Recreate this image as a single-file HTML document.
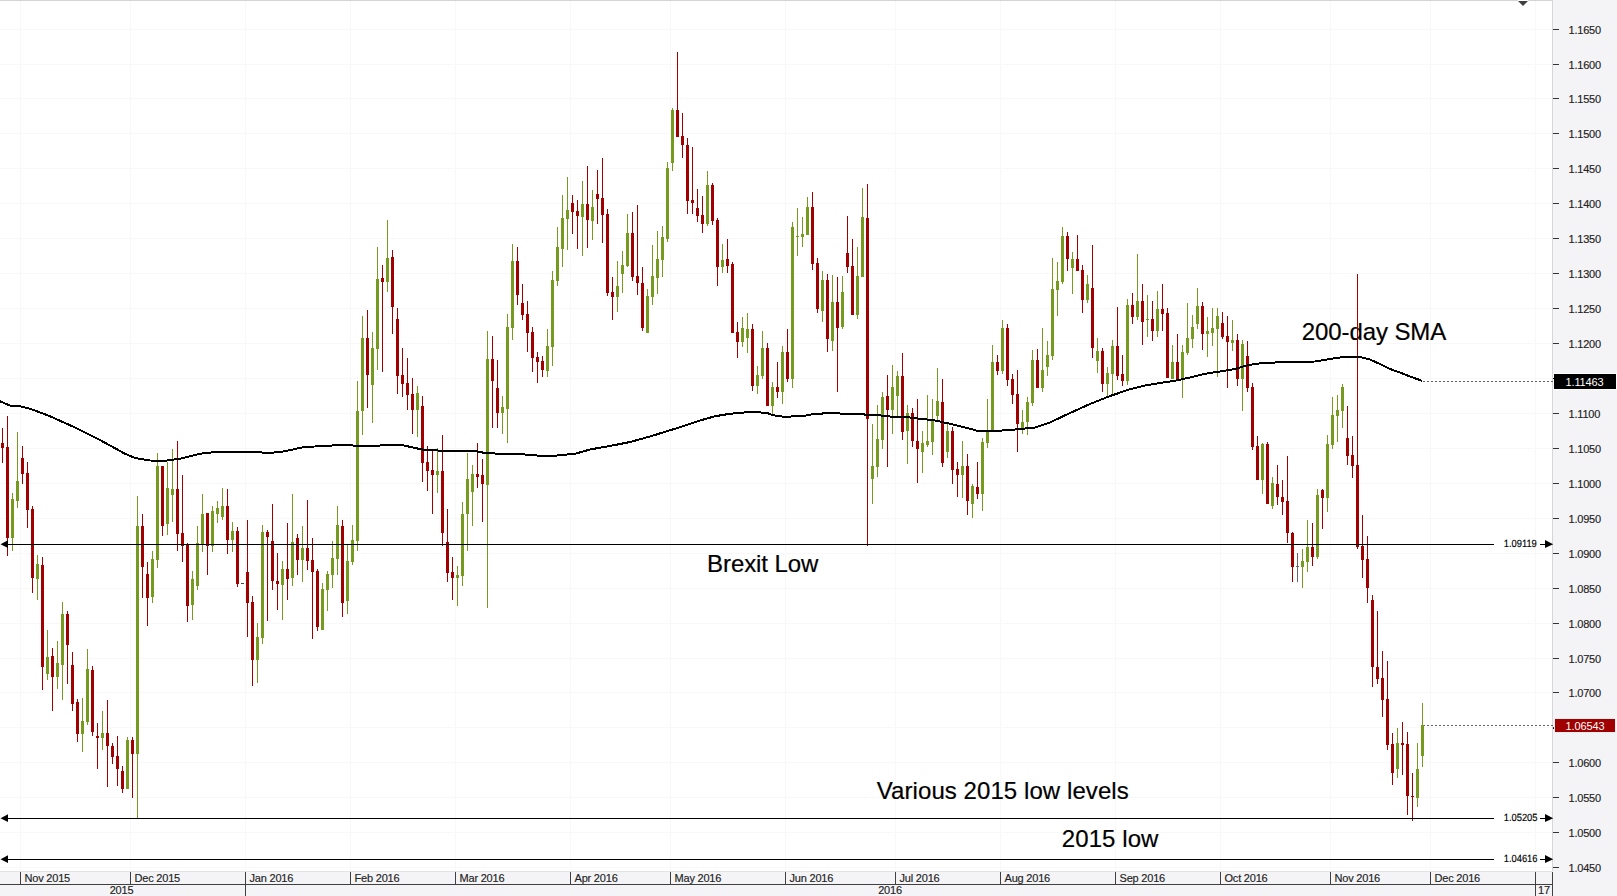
<!DOCTYPE html>
<html lang="en"><head><meta charset="utf-8"><title>EUR/USD daily chart</title>
<style>html,body{margin:0;padding:0;background:#fff}body{width:1617px;height:896px;overflow:hidden;position:relative}svg{display:block;position:absolute;left:0;top:0}text{font-family:"Liberation Sans",Arial,sans-serif}.ax{font-size:11px;fill:#222;letter-spacing:-0.2px;stroke:#222;stroke-width:0.15px}.lv{font-size:10.4px;fill:#000;stroke:#000;stroke-width:0.15px}.an{fill:#000;stroke:#000;stroke-width:0.2px}</style></head><body>
<svg width="1617" height="896" viewBox="0 0 1617 896">
<rect x="0" y="0" width="1617" height="896" fill="#fff"/>
<g shape-rendering="crispEdges" fill="#f8f8f8">
<rect x="0" y="29" width="1552" height="1"/>
<rect x="0" y="64" width="1552" height="1"/>
<rect x="0" y="98" width="1552" height="1"/>
<rect x="0" y="133" width="1552" height="1"/>
<rect x="0" y="168" width="1552" height="1"/>
<rect x="0" y="203" width="1552" height="1"/>
<rect x="0" y="238" width="1552" height="1"/>
<rect x="0" y="273" width="1552" height="1"/>
<rect x="0" y="308" width="1552" height="1"/>
<rect x="0" y="343" width="1552" height="1"/>
<rect x="0" y="378" width="1552" height="1"/>
<rect x="0" y="413" width="1552" height="1"/>
<rect x="0" y="448" width="1552" height="1"/>
<rect x="0" y="483" width="1552" height="1"/>
<rect x="0" y="518" width="1552" height="1"/>
<rect x="0" y="553" width="1552" height="1"/>
<rect x="0" y="588" width="1552" height="1"/>
<rect x="0" y="623" width="1552" height="1"/>
<rect x="0" y="658" width="1552" height="1"/>
<rect x="0" y="692" width="1552" height="1"/>
<rect x="0" y="727" width="1552" height="1"/>
<rect x="0" y="762" width="1552" height="1"/>
<rect x="0" y="797" width="1552" height="1"/>
<rect x="0" y="832" width="1552" height="1"/>
<rect x="0" y="867" width="1552" height="1"/>
<rect x="20" y="1" width="1" height="870"/>
<rect x="130" y="1" width="1" height="870"/>
<rect x="245" y="1" width="1" height="870"/>
<rect x="350" y="1" width="1" height="870"/>
<rect x="455" y="1" width="1" height="870"/>
<rect x="570" y="1" width="1" height="870"/>
<rect x="670" y="1" width="1" height="870"/>
<rect x="785" y="1" width="1" height="870"/>
<rect x="895" y="1" width="1" height="870"/>
<rect x="1000" y="1" width="1" height="870"/>
<rect x="1115" y="1" width="1" height="870"/>
<rect x="1220" y="1" width="1" height="870"/>
<rect x="1330" y="1" width="1" height="870"/>
<rect x="1430" y="1" width="1" height="870"/>
<rect x="1535" y="1" width="1" height="870"/>
</g>
<g shape-rendering="crispEdges">
<rect x="0" y="0" width="1553" height="1" fill="#d4d4d6"/>
<rect x="1553" y="0" width="64" height="896" fill="#f4f4f7"/>
<rect x="1552" y="0" width="1" height="871" fill="#d6d6d8"/>
<rect x="0" y="871" width="1553" height="25" fill="#f4f4f7"/>
<rect x="0" y="871" width="1552" height="1" fill="#e2e2e4"/>
<rect x="0" y="884" width="1553" height="1" fill="#404040"/>
<rect x="1552" y="872" width="1" height="24" fill="#404040"/>
<rect x="20" y="872" width="1" height="12" fill="#404040"/>
<rect x="130" y="872" width="1" height="12" fill="#404040"/>
<rect x="245" y="872" width="1" height="12" fill="#404040"/>
<rect x="350" y="872" width="1" height="12" fill="#404040"/>
<rect x="455" y="872" width="1" height="12" fill="#404040"/>
<rect x="570" y="872" width="1" height="12" fill="#404040"/>
<rect x="670" y="872" width="1" height="12" fill="#404040"/>
<rect x="785" y="872" width="1" height="12" fill="#404040"/>
<rect x="895" y="872" width="1" height="12" fill="#404040"/>
<rect x="1000" y="872" width="1" height="12" fill="#404040"/>
<rect x="1115" y="872" width="1" height="12" fill="#404040"/>
<rect x="1220" y="872" width="1" height="12" fill="#404040"/>
<rect x="1330" y="872" width="1" height="12" fill="#404040"/>
<rect x="1430" y="872" width="1" height="12" fill="#404040"/>
<rect x="245" y="872" width="1" height="24" fill="#404040"/>
<rect x="1535" y="872" width="1" height="24" fill="#404040"/>
<rect x="1553" y="29" width="6" height="1" fill="#333"/>
<rect x="1553" y="64" width="6" height="1" fill="#333"/>
<rect x="1553" y="98" width="6" height="1" fill="#333"/>
<rect x="1553" y="133" width="6" height="1" fill="#333"/>
<rect x="1553" y="168" width="6" height="1" fill="#333"/>
<rect x="1553" y="203" width="6" height="1" fill="#333"/>
<rect x="1553" y="238" width="6" height="1" fill="#333"/>
<rect x="1553" y="273" width="6" height="1" fill="#333"/>
<rect x="1553" y="308" width="6" height="1" fill="#333"/>
<rect x="1553" y="343" width="6" height="1" fill="#333"/>
<rect x="1553" y="378" width="6" height="1" fill="#333"/>
<rect x="1553" y="413" width="6" height="1" fill="#333"/>
<rect x="1553" y="448" width="6" height="1" fill="#333"/>
<rect x="1553" y="483" width="6" height="1" fill="#333"/>
<rect x="1553" y="518" width="6" height="1" fill="#333"/>
<rect x="1553" y="553" width="6" height="1" fill="#333"/>
<rect x="1553" y="588" width="6" height="1" fill="#333"/>
<rect x="1553" y="623" width="6" height="1" fill="#333"/>
<rect x="1553" y="658" width="6" height="1" fill="#333"/>
<rect x="1553" y="692" width="6" height="1" fill="#333"/>
<rect x="1553" y="727" width="6" height="1" fill="#333"/>
<rect x="1553" y="762" width="6" height="1" fill="#333"/>
<rect x="1553" y="797" width="6" height="1" fill="#333"/>
<rect x="1553" y="832" width="6" height="1" fill="#333"/>
<rect x="1553" y="867" width="6" height="1" fill="#333"/>
</g>
<text class="ax" x="1568.5" y="34">1.1650</text>
<text class="ax" x="1568.5" y="69">1.1600</text>
<text class="ax" x="1568.5" y="103">1.1550</text>
<text class="ax" x="1568.5" y="138">1.1500</text>
<text class="ax" x="1568.5" y="173">1.1450</text>
<text class="ax" x="1568.5" y="208">1.1400</text>
<text class="ax" x="1568.5" y="243">1.1350</text>
<text class="ax" x="1568.5" y="278">1.1300</text>
<text class="ax" x="1568.5" y="313">1.1250</text>
<text class="ax" x="1568.5" y="348">1.1200</text>
<text class="ax" x="1568.5" y="418">1.1100</text>
<text class="ax" x="1568.5" y="453">1.1050</text>
<text class="ax" x="1568.5" y="488">1.1000</text>
<text class="ax" x="1568.5" y="523">1.0950</text>
<text class="ax" x="1568.5" y="558">1.0900</text>
<text class="ax" x="1568.5" y="593">1.0850</text>
<text class="ax" x="1568.5" y="628">1.0800</text>
<text class="ax" x="1568.5" y="663">1.0750</text>
<text class="ax" x="1568.5" y="697">1.0700</text>
<text class="ax" x="1568.5" y="767">1.0600</text>
<text class="ax" x="1568.5" y="802">1.0550</text>
<text class="ax" x="1568.5" y="837">1.0500</text>
<text class="ax" x="1568.5" y="872">1.0450</text>
<text class="ax" x="24.5" y="882">Nov 2015</text>
<text class="ax" x="134.5" y="882">Dec 2015</text>
<text class="ax" x="249.5" y="882">Jan 2016</text>
<text class="ax" x="354.5" y="882">Feb 2016</text>
<text class="ax" x="459.5" y="882">Mar 2016</text>
<text class="ax" x="574.5" y="882">Apr 2016</text>
<text class="ax" x="674.5" y="882">May 2016</text>
<text class="ax" x="789.5" y="882">Jun 2016</text>
<text class="ax" x="899.5" y="882">Jul 2016</text>
<text class="ax" x="1004.5" y="882">Aug 2016</text>
<text class="ax" x="1119.5" y="882">Sep 2016</text>
<text class="ax" x="1224.5" y="882">Oct 2016</text>
<text class="ax" x="1334.5" y="882">Nov 2016</text>
<text class="ax" x="1434.5" y="882">Dec 2016</text>
<text class="ax" x="121.5" y="894" text-anchor="middle">2015</text>
<text class="ax" x="890" y="894" text-anchor="middle">2016</text>
<text class="ax" x="1538" y="894">17</text>
<rect x="1518" y="0" width="10" height="1" fill="#fff"/>
<path d="M1518 1 L1528 1 L1523 6 Z" fill="#404040"/>
<text class="an" x="707.1" y="572.2" font-size="24" letter-spacing="-0.1">Brexit Low</text>
<text class="an" x="1301.8" y="340.2" font-size="24" letter-spacing="-0.1">200-day SMA</text>
<text class="an" x="876.8" y="799.2" font-size="24" letter-spacing="0.07">Various 2015 low levels</text>
<text class="an" x="1061.8" y="847.2" font-size="24" letter-spacing="0.08">2015 low</text>
<g shape-rendering="crispEdges">
<line x1="1423" y1="381.5" x2="1553" y2="381.5" stroke="#606060" stroke-width="1" stroke-dasharray="2 2"/>
<line x1="1423" y1="725.5" x2="1553" y2="725.5" stroke="#606060" stroke-width="1" stroke-dasharray="2 2"/>
</g>
<g shape-rendering="crispEdges">
<rect x="2" y="428" width="1" height="35" fill="#a00000"/>
<rect x="1" y="443" width="3" height="5" fill="#a00000"/>
<rect x="7" y="416" width="1" height="140" fill="#a00000"/>
<rect x="6" y="447" width="3" height="91" fill="#a00000"/>
<rect x="12" y="493" width="1" height="58" fill="#76991f"/>
<rect x="11" y="499" width="3" height="39" fill="#76991f"/>
<rect x="17" y="432" width="1" height="76" fill="#76991f"/>
<rect x="16" y="481" width="3" height="20" fill="#76991f"/>
<rect x="22" y="446" width="1" height="38" fill="#a00000"/>
<rect x="21" y="458" width="3" height="16" fill="#a00000"/>
<rect x="27" y="462" width="1" height="66" fill="#a00000"/>
<rect x="26" y="473" width="3" height="37" fill="#a00000"/>
<rect x="32" y="506" width="1" height="87" fill="#a00000"/>
<rect x="31" y="509" width="3" height="69" fill="#a00000"/>
<rect x="37" y="555" width="1" height="45" fill="#76991f"/>
<rect x="36" y="564" width="3" height="15" fill="#76991f"/>
<rect x="42" y="557" width="1" height="133" fill="#a00000"/>
<rect x="41" y="565" width="3" height="102" fill="#a00000"/>
<rect x="47" y="630" width="1" height="50" fill="#76991f"/>
<rect x="46" y="657" width="3" height="17" fill="#76991f"/>
<rect x="52" y="648" width="1" height="63" fill="#a00000"/>
<rect x="51" y="656" width="3" height="21" fill="#a00000"/>
<rect x="57" y="641" width="1" height="48" fill="#76991f"/>
<rect x="56" y="663" width="3" height="14" fill="#76991f"/>
<rect x="62" y="602" width="1" height="98" fill="#76991f"/>
<rect x="61" y="614" width="3" height="51" fill="#76991f"/>
<rect x="67" y="611" width="1" height="73" fill="#a00000"/>
<rect x="66" y="614" width="3" height="31" fill="#a00000"/>
<rect x="72" y="652" width="1" height="59" fill="#a00000"/>
<rect x="71" y="665" width="3" height="39" fill="#a00000"/>
<rect x="77" y="699" width="1" height="43" fill="#a00000"/>
<rect x="76" y="702" width="3" height="32" fill="#a00000"/>
<rect x="82" y="698" width="1" height="54" fill="#76991f"/>
<rect x="81" y="721" width="3" height="13" fill="#76991f"/>
<rect x="87" y="649" width="1" height="76" fill="#76991f"/>
<rect x="86" y="669" width="3" height="53" fill="#76991f"/>
<rect x="92" y="666" width="1" height="70" fill="#a00000"/>
<rect x="91" y="670" width="3" height="62" fill="#a00000"/>
<rect x="97" y="723" width="1" height="46" fill="#a00000"/>
<rect x="96" y="736" width="3" height="2" fill="#a00000"/>
<rect x="102" y="711" width="1" height="39" fill="#76991f"/>
<rect x="101" y="733" width="3" height="5" fill="#76991f"/>
<rect x="107" y="700" width="1" height="87" fill="#a00000"/>
<rect x="106" y="733" width="3" height="13" fill="#a00000"/>
<rect x="112" y="743" width="1" height="21" fill="#a00000"/>
<rect x="111" y="746" width="3" height="11" fill="#a00000"/>
<rect x="117" y="736" width="1" height="50" fill="#a00000"/>
<rect x="116" y="756" width="3" height="13" fill="#a00000"/>
<rect x="122" y="766" width="1" height="27" fill="#a00000"/>
<rect x="121" y="771" width="3" height="18" fill="#a00000"/>
<rect x="127" y="737" width="1" height="52" fill="#76991f"/>
<rect x="126" y="740" width="3" height="49" fill="#76991f"/>
<rect x="132" y="737" width="1" height="61" fill="#a00000"/>
<rect x="131" y="740" width="3" height="14" fill="#a00000"/>
<rect x="137" y="496" width="1" height="322" fill="#76991f"/>
<rect x="136" y="526" width="3" height="228" fill="#76991f"/>
<rect x="142" y="514" width="1" height="84" fill="#a00000"/>
<rect x="141" y="526" width="3" height="41" fill="#a00000"/>
<rect x="147" y="562" width="1" height="64" fill="#a00000"/>
<rect x="146" y="574" width="3" height="24" fill="#a00000"/>
<rect x="152" y="551" width="1" height="52" fill="#76991f"/>
<rect x="151" y="559" width="3" height="38" fill="#76991f"/>
<rect x="157" y="453" width="1" height="115" fill="#76991f"/>
<rect x="156" y="466" width="3" height="94" fill="#76991f"/>
<rect x="162" y="466" width="1" height="70" fill="#a00000"/>
<rect x="161" y="466" width="3" height="60" fill="#a00000"/>
<rect x="167" y="462" width="1" height="73" fill="#76991f"/>
<rect x="166" y="488" width="3" height="36" fill="#76991f"/>
<rect x="172" y="449" width="1" height="73" fill="#76991f"/>
<rect x="171" y="489" width="3" height="6" fill="#76991f"/>
<rect x="177" y="441" width="1" height="110" fill="#a00000"/>
<rect x="176" y="489" width="3" height="45" fill="#a00000"/>
<rect x="182" y="475" width="1" height="87" fill="#a00000"/>
<rect x="181" y="533" width="3" height="13" fill="#a00000"/>
<rect x="187" y="543" width="1" height="79" fill="#a00000"/>
<rect x="186" y="545" width="3" height="61" fill="#a00000"/>
<rect x="192" y="571" width="1" height="49" fill="#76991f"/>
<rect x="191" y="579" width="3" height="26" fill="#76991f"/>
<rect x="197" y="526" width="1" height="64" fill="#76991f"/>
<rect x="196" y="543" width="3" height="43" fill="#76991f"/>
<rect x="202" y="494" width="1" height="58" fill="#76991f"/>
<rect x="201" y="514" width="3" height="31" fill="#76991f"/>
<rect x="207" y="513" width="1" height="62" fill="#a00000"/>
<rect x="206" y="513" width="3" height="33" fill="#a00000"/>
<rect x="212" y="506" width="1" height="46" fill="#76991f"/>
<rect x="211" y="511" width="3" height="35" fill="#76991f"/>
<rect x="217" y="501" width="1" height="22" fill="#76991f"/>
<rect x="216" y="508" width="3" height="6" fill="#76991f"/>
<rect x="222" y="488" width="1" height="32" fill="#76991f"/>
<rect x="221" y="506" width="3" height="11" fill="#76991f"/>
<rect x="227" y="489" width="1" height="65" fill="#a00000"/>
<rect x="226" y="506" width="3" height="34" fill="#a00000"/>
<rect x="232" y="522" width="1" height="30" fill="#76991f"/>
<rect x="231" y="531" width="3" height="9" fill="#76991f"/>
<rect x="237" y="527" width="1" height="60" fill="#a00000"/>
<rect x="236" y="531" width="3" height="53" fill="#a00000"/>
<rect x="241" y="583" width="3" height="1" fill="#444"/>
<rect x="247" y="520" width="1" height="117" fill="#a00000"/>
<rect x="246" y="572" width="3" height="31" fill="#a00000"/>
<rect x="252" y="596" width="1" height="90" fill="#a00000"/>
<rect x="251" y="602" width="3" height="58" fill="#a00000"/>
<rect x="257" y="623" width="1" height="60" fill="#76991f"/>
<rect x="256" y="637" width="3" height="23" fill="#76991f"/>
<rect x="262" y="525" width="1" height="119" fill="#76991f"/>
<rect x="261" y="532" width="3" height="106" fill="#76991f"/>
<rect x="267" y="530" width="1" height="91" fill="#a00000"/>
<rect x="266" y="532" width="3" height="5" fill="#a00000"/>
<rect x="272" y="504" width="1" height="86" fill="#a00000"/>
<rect x="271" y="541" width="3" height="40" fill="#a00000"/>
<rect x="277" y="553" width="1" height="57" fill="#a00000"/>
<rect x="276" y="581" width="3" height="3" fill="#a00000"/>
<rect x="282" y="561" width="1" height="59" fill="#76991f"/>
<rect x="281" y="569" width="3" height="16" fill="#76991f"/>
<rect x="287" y="523" width="1" height="77" fill="#a00000"/>
<rect x="286" y="569" width="3" height="10" fill="#a00000"/>
<rect x="292" y="494" width="1" height="92" fill="#76991f"/>
<rect x="291" y="542" width="3" height="36" fill="#76991f"/>
<rect x="297" y="534" width="1" height="41" fill="#a00000"/>
<rect x="296" y="538" width="3" height="22" fill="#a00000"/>
<rect x="302" y="526" width="1" height="56" fill="#76991f"/>
<rect x="301" y="548" width="3" height="12" fill="#76991f"/>
<rect x="307" y="500" width="1" height="70" fill="#a00000"/>
<rect x="306" y="548" width="3" height="13" fill="#a00000"/>
<rect x="312" y="538" width="1" height="101" fill="#a00000"/>
<rect x="311" y="560" width="3" height="12" fill="#a00000"/>
<rect x="317" y="569" width="1" height="62" fill="#a00000"/>
<rect x="316" y="571" width="3" height="56" fill="#a00000"/>
<rect x="322" y="583" width="1" height="47" fill="#76991f"/>
<rect x="321" y="589" width="3" height="41" fill="#76991f"/>
<rect x="327" y="571" width="1" height="40" fill="#76991f"/>
<rect x="326" y="574" width="3" height="16" fill="#76991f"/>
<rect x="332" y="541" width="1" height="47" fill="#76991f"/>
<rect x="331" y="558" width="3" height="17" fill="#76991f"/>
<rect x="337" y="506" width="1" height="69" fill="#76991f"/>
<rect x="336" y="525" width="3" height="34" fill="#76991f"/>
<rect x="342" y="520" width="1" height="97" fill="#a00000"/>
<rect x="341" y="526" width="3" height="77" fill="#a00000"/>
<rect x="347" y="544" width="1" height="70" fill="#76991f"/>
<rect x="346" y="561" width="3" height="40" fill="#76991f"/>
<rect x="352" y="525" width="1" height="40" fill="#76991f"/>
<rect x="351" y="540" width="3" height="22" fill="#76991f"/>
<rect x="357" y="381" width="1" height="170" fill="#76991f"/>
<rect x="356" y="411" width="3" height="130" fill="#76991f"/>
<rect x="362" y="316" width="1" height="119" fill="#76991f"/>
<rect x="361" y="338" width="3" height="73" fill="#76991f"/>
<rect x="367" y="310" width="1" height="98" fill="#a00000"/>
<rect x="366" y="338" width="3" height="37" fill="#a00000"/>
<rect x="372" y="332" width="1" height="91" fill="#76991f"/>
<rect x="371" y="348" width="3" height="37" fill="#76991f"/>
<rect x="377" y="247" width="1" height="123" fill="#76991f"/>
<rect x="376" y="279" width="3" height="70" fill="#76991f"/>
<rect x="382" y="265" width="1" height="107" fill="#a00000"/>
<rect x="381" y="278" width="3" height="4" fill="#a00000"/>
<rect x="387" y="220" width="1" height="72" fill="#76991f"/>
<rect x="386" y="258" width="3" height="24" fill="#76991f"/>
<rect x="392" y="250" width="1" height="84" fill="#a00000"/>
<rect x="391" y="257" width="3" height="50" fill="#a00000"/>
<rect x="397" y="308" width="1" height="86" fill="#a00000"/>
<rect x="396" y="319" width="3" height="57" fill="#a00000"/>
<rect x="402" y="348" width="1" height="49" fill="#a00000"/>
<rect x="401" y="375" width="3" height="9" fill="#a00000"/>
<rect x="407" y="358" width="1" height="52" fill="#a00000"/>
<rect x="406" y="383" width="3" height="12" fill="#a00000"/>
<rect x="412" y="378" width="1" height="56" fill="#a00000"/>
<rect x="411" y="394" width="3" height="16" fill="#a00000"/>
<rect x="417" y="386" width="1" height="51" fill="#76991f"/>
<rect x="416" y="393" width="3" height="17" fill="#76991f"/>
<rect x="422" y="396" width="1" height="86" fill="#a00000"/>
<rect x="421" y="406" width="3" height="57" fill="#a00000"/>
<rect x="427" y="446" width="1" height="45" fill="#a00000"/>
<rect x="426" y="462" width="3" height="9" fill="#a00000"/>
<rect x="432" y="450" width="1" height="64" fill="#a00000"/>
<rect x="431" y="470" width="3" height="5" fill="#a00000"/>
<rect x="437" y="448" width="1" height="45" fill="#76991f"/>
<rect x="436" y="471" width="3" height="4" fill="#76991f"/>
<rect x="442" y="435" width="1" height="111" fill="#a00000"/>
<rect x="441" y="471" width="3" height="62" fill="#a00000"/>
<rect x="447" y="509" width="1" height="73" fill="#a00000"/>
<rect x="446" y="542" width="3" height="31" fill="#a00000"/>
<rect x="452" y="557" width="1" height="43" fill="#a00000"/>
<rect x="451" y="572" width="3" height="6" fill="#a00000"/>
<rect x="457" y="566" width="1" height="40" fill="#76991f"/>
<rect x="456" y="575" width="3" height="3" fill="#76991f"/>
<rect x="462" y="502" width="1" height="84" fill="#76991f"/>
<rect x="461" y="514" width="3" height="62" fill="#76991f"/>
<rect x="467" y="453" width="1" height="98" fill="#76991f"/>
<rect x="466" y="479" width="3" height="35" fill="#76991f"/>
<rect x="472" y="465" width="1" height="61" fill="#76991f"/>
<rect x="471" y="474" width="3" height="18" fill="#76991f"/>
<rect x="477" y="443" width="1" height="45" fill="#a00000"/>
<rect x="476" y="474" width="3" height="3" fill="#a00000"/>
<rect x="482" y="459" width="1" height="63" fill="#a00000"/>
<rect x="481" y="475" width="3" height="9" fill="#a00000"/>
<rect x="487" y="331" width="1" height="277" fill="#76991f"/>
<rect x="486" y="359" width="3" height="126" fill="#76991f"/>
<rect x="492" y="336" width="1" height="92" fill="#a00000"/>
<rect x="491" y="359" width="3" height="22" fill="#a00000"/>
<rect x="497" y="360" width="1" height="68" fill="#a00000"/>
<rect x="496" y="388" width="3" height="25" fill="#a00000"/>
<rect x="502" y="396" width="1" height="38" fill="#76991f"/>
<rect x="501" y="407" width="3" height="6" fill="#76991f"/>
<rect x="507" y="314" width="1" height="129" fill="#76991f"/>
<rect x="506" y="327" width="3" height="82" fill="#76991f"/>
<rect x="512" y="244" width="1" height="96" fill="#76991f"/>
<rect x="511" y="261" width="3" height="67" fill="#76991f"/>
<rect x="517" y="247" width="1" height="58" fill="#a00000"/>
<rect x="516" y="261" width="3" height="34" fill="#a00000"/>
<rect x="522" y="284" width="1" height="36" fill="#a00000"/>
<rect x="521" y="303" width="3" height="12" fill="#a00000"/>
<rect x="527" y="301" width="1" height="51" fill="#a00000"/>
<rect x="526" y="314" width="3" height="19" fill="#a00000"/>
<rect x="532" y="327" width="1" height="45" fill="#a00000"/>
<rect x="531" y="332" width="3" height="26" fill="#a00000"/>
<rect x="537" y="352" width="1" height="31" fill="#a00000"/>
<rect x="536" y="357" width="3" height="5" fill="#a00000"/>
<rect x="542" y="356" width="1" height="21" fill="#a00000"/>
<rect x="541" y="361" width="3" height="9" fill="#a00000"/>
<rect x="547" y="329" width="1" height="48" fill="#76991f"/>
<rect x="546" y="346" width="3" height="25" fill="#76991f"/>
<rect x="552" y="271" width="1" height="95" fill="#76991f"/>
<rect x="551" y="280" width="3" height="67" fill="#76991f"/>
<rect x="557" y="227" width="1" height="59" fill="#76991f"/>
<rect x="556" y="247" width="3" height="34" fill="#76991f"/>
<rect x="562" y="195" width="1" height="72" fill="#76991f"/>
<rect x="561" y="218" width="3" height="31" fill="#76991f"/>
<rect x="567" y="177" width="1" height="73" fill="#76991f"/>
<rect x="566" y="210" width="3" height="9" fill="#76991f"/>
<rect x="572" y="195" width="1" height="39" fill="#a00000"/>
<rect x="571" y="203" width="3" height="9" fill="#a00000"/>
<rect x="577" y="200" width="1" height="49" fill="#a00000"/>
<rect x="576" y="211" width="3" height="5" fill="#a00000"/>
<rect x="582" y="181" width="1" height="75" fill="#76991f"/>
<rect x="581" y="204" width="3" height="13" fill="#76991f"/>
<rect x="587" y="166" width="1" height="82" fill="#a00000"/>
<rect x="586" y="204" width="3" height="16" fill="#a00000"/>
<rect x="592" y="190" width="1" height="50" fill="#76991f"/>
<rect x="591" y="207" width="3" height="14" fill="#76991f"/>
<rect x="597" y="170" width="1" height="54" fill="#a00000"/>
<rect x="596" y="194" width="3" height="5" fill="#a00000"/>
<rect x="602" y="158" width="1" height="85" fill="#a00000"/>
<rect x="601" y="198" width="3" height="17" fill="#a00000"/>
<rect x="607" y="209" width="1" height="87" fill="#a00000"/>
<rect x="606" y="214" width="3" height="79" fill="#a00000"/>
<rect x="612" y="277" width="1" height="43" fill="#a00000"/>
<rect x="611" y="292" width="3" height="5" fill="#a00000"/>
<rect x="617" y="261" width="1" height="51" fill="#76991f"/>
<rect x="616" y="286" width="3" height="11" fill="#76991f"/>
<rect x="622" y="251" width="1" height="42" fill="#76991f"/>
<rect x="621" y="265" width="3" height="9" fill="#76991f"/>
<rect x="627" y="214" width="1" height="53" fill="#76991f"/>
<rect x="626" y="233" width="3" height="33" fill="#76991f"/>
<rect x="632" y="212" width="1" height="69" fill="#a00000"/>
<rect x="631" y="233" width="3" height="44" fill="#a00000"/>
<rect x="637" y="205" width="1" height="90" fill="#a00000"/>
<rect x="636" y="276" width="3" height="7" fill="#a00000"/>
<rect x="642" y="267" width="1" height="64" fill="#a00000"/>
<rect x="641" y="283" width="3" height="45" fill="#a00000"/>
<rect x="647" y="289" width="1" height="44" fill="#76991f"/>
<rect x="646" y="296" width="3" height="37" fill="#76991f"/>
<rect x="652" y="245" width="1" height="60" fill="#76991f"/>
<rect x="651" y="276" width="3" height="21" fill="#76991f"/>
<rect x="657" y="231" width="1" height="63" fill="#76991f"/>
<rect x="656" y="259" width="3" height="19" fill="#76991f"/>
<rect x="662" y="226" width="1" height="51" fill="#76991f"/>
<rect x="661" y="237" width="3" height="23" fill="#76991f"/>
<rect x="667" y="162" width="1" height="80" fill="#76991f"/>
<rect x="666" y="168" width="3" height="71" fill="#76991f"/>
<rect x="672" y="108" width="1" height="63" fill="#76991f"/>
<rect x="671" y="110" width="3" height="53" fill="#76991f"/>
<rect x="677" y="52" width="1" height="85" fill="#a00000"/>
<rect x="676" y="110" width="3" height="27" fill="#a00000"/>
<rect x="682" y="113" width="1" height="45" fill="#a00000"/>
<rect x="681" y="136" width="3" height="9" fill="#a00000"/>
<rect x="687" y="138" width="1" height="76" fill="#a00000"/>
<rect x="686" y="145" width="3" height="56" fill="#a00000"/>
<rect x="692" y="147" width="1" height="67" fill="#a00000"/>
<rect x="691" y="200" width="3" height="3" fill="#a00000"/>
<rect x="697" y="189" width="1" height="33" fill="#a00000"/>
<rect x="696" y="208" width="3" height="8" fill="#a00000"/>
<rect x="702" y="196" width="1" height="37" fill="#a00000"/>
<rect x="701" y="215" width="3" height="9" fill="#a00000"/>
<rect x="707" y="171" width="1" height="55" fill="#76991f"/>
<rect x="706" y="185" width="3" height="39" fill="#76991f"/>
<rect x="712" y="183" width="1" height="42" fill="#a00000"/>
<rect x="711" y="185" width="3" height="36" fill="#a00000"/>
<rect x="717" y="218" width="1" height="68" fill="#a00000"/>
<rect x="716" y="220" width="3" height="47" fill="#a00000"/>
<rect x="722" y="244" width="1" height="29" fill="#76991f"/>
<rect x="721" y="260" width="3" height="7" fill="#76991f"/>
<rect x="727" y="239" width="1" height="34" fill="#a00000"/>
<rect x="726" y="259" width="3" height="7" fill="#a00000"/>
<rect x="732" y="262" width="1" height="71" fill="#a00000"/>
<rect x="731" y="264" width="3" height="69" fill="#a00000"/>
<rect x="737" y="322" width="1" height="36" fill="#a00000"/>
<rect x="736" y="332" width="3" height="10" fill="#a00000"/>
<rect x="742" y="317" width="1" height="30" fill="#76991f"/>
<rect x="741" y="328" width="3" height="14" fill="#76991f"/>
<rect x="747" y="313" width="1" height="40" fill="#76991f"/>
<rect x="746" y="329" width="3" height="9" fill="#76991f"/>
<rect x="752" y="324" width="1" height="67" fill="#a00000"/>
<rect x="751" y="329" width="3" height="57" fill="#a00000"/>
<rect x="757" y="366" width="1" height="28" fill="#76991f"/>
<rect x="756" y="375" width="3" height="11" fill="#76991f"/>
<rect x="762" y="331" width="1" height="48" fill="#76991f"/>
<rect x="761" y="348" width="3" height="28" fill="#76991f"/>
<rect x="767" y="343" width="1" height="63" fill="#a00000"/>
<rect x="766" y="348" width="3" height="58" fill="#a00000"/>
<rect x="772" y="382" width="1" height="33" fill="#76991f"/>
<rect x="771" y="387" width="3" height="19" fill="#76991f"/>
<rect x="777" y="362" width="1" height="36" fill="#a00000"/>
<rect x="776" y="387" width="3" height="5" fill="#a00000"/>
<rect x="782" y="346" width="1" height="58" fill="#76991f"/>
<rect x="781" y="352" width="3" height="40" fill="#76991f"/>
<rect x="787" y="329" width="1" height="53" fill="#a00000"/>
<rect x="786" y="352" width="3" height="27" fill="#a00000"/>
<rect x="792" y="222" width="1" height="166" fill="#76991f"/>
<rect x="791" y="227" width="3" height="152" fill="#76991f"/>
<rect x="797" y="208" width="1" height="48" fill="#76991f"/>
<rect x="796" y="236" width="3" height="1" fill="#76991f"/>
<rect x="802" y="217" width="1" height="30" fill="#76991f"/>
<rect x="801" y="234" width="3" height="3" fill="#76991f"/>
<rect x="807" y="197" width="1" height="38" fill="#76991f"/>
<rect x="806" y="207" width="3" height="28" fill="#76991f"/>
<rect x="812" y="192" width="1" height="78" fill="#a00000"/>
<rect x="811" y="207" width="3" height="57" fill="#a00000"/>
<rect x="817" y="258" width="1" height="55" fill="#a00000"/>
<rect x="816" y="263" width="3" height="46" fill="#a00000"/>
<rect x="822" y="271" width="1" height="51" fill="#76991f"/>
<rect x="821" y="280" width="3" height="31" fill="#76991f"/>
<rect x="827" y="274" width="1" height="78" fill="#a00000"/>
<rect x="826" y="280" width="3" height="59" fill="#a00000"/>
<rect x="832" y="275" width="1" height="76" fill="#76991f"/>
<rect x="831" y="302" width="3" height="39" fill="#76991f"/>
<rect x="837" y="277" width="1" height="115" fill="#a00000"/>
<rect x="836" y="302" width="3" height="26" fill="#a00000"/>
<rect x="842" y="276" width="1" height="53" fill="#76991f"/>
<rect x="841" y="292" width="3" height="35" fill="#76991f"/>
<rect x="847" y="216" width="1" height="57" fill="#a00000"/>
<rect x="846" y="253" width="3" height="14" fill="#a00000"/>
<rect x="852" y="239" width="1" height="76" fill="#a00000"/>
<rect x="851" y="266" width="3" height="49" fill="#a00000"/>
<rect x="857" y="247" width="1" height="72" fill="#76991f"/>
<rect x="856" y="276" width="3" height="39" fill="#76991f"/>
<rect x="862" y="188" width="1" height="89" fill="#76991f"/>
<rect x="861" y="217" width="3" height="60" fill="#76991f"/>
<rect x="867" y="184" width="1" height="362" fill="#a00000"/>
<rect x="866" y="218" width="3" height="201" fill="#a00000"/>
<rect x="872" y="424" width="1" height="80" fill="#76991f"/>
<rect x="871" y="466" width="3" height="13" fill="#76991f"/>
<rect x="877" y="405" width="1" height="72" fill="#76991f"/>
<rect x="876" y="439" width="3" height="28" fill="#76991f"/>
<rect x="882" y="392" width="1" height="57" fill="#76991f"/>
<rect x="881" y="397" width="3" height="43" fill="#76991f"/>
<rect x="887" y="375" width="1" height="92" fill="#a00000"/>
<rect x="886" y="396" width="3" height="14" fill="#a00000"/>
<rect x="892" y="365" width="1" height="69" fill="#76991f"/>
<rect x="891" y="387" width="3" height="23" fill="#76991f"/>
<rect x="897" y="371" width="1" height="45" fill="#76991f"/>
<rect x="896" y="376" width="3" height="20" fill="#76991f"/>
<rect x="902" y="353" width="1" height="87" fill="#a00000"/>
<rect x="901" y="376" width="3" height="56" fill="#a00000"/>
<rect x="907" y="405" width="1" height="59" fill="#76991f"/>
<rect x="906" y="413" width="3" height="18" fill="#76991f"/>
<rect x="912" y="408" width="1" height="39" fill="#a00000"/>
<rect x="911" y="413" width="3" height="28" fill="#a00000"/>
<rect x="917" y="399" width="1" height="84" fill="#a00000"/>
<rect x="916" y="441" width="3" height="8" fill="#a00000"/>
<rect x="922" y="431" width="1" height="42" fill="#76991f"/>
<rect x="921" y="443" width="3" height="9" fill="#76991f"/>
<rect x="927" y="395" width="1" height="52" fill="#76991f"/>
<rect x="926" y="441" width="3" height="4" fill="#76991f"/>
<rect x="932" y="399" width="1" height="56" fill="#76991f"/>
<rect x="931" y="419" width="3" height="23" fill="#76991f"/>
<rect x="937" y="368" width="1" height="53" fill="#76991f"/>
<rect x="936" y="401" width="3" height="15" fill="#76991f"/>
<rect x="942" y="379" width="1" height="88" fill="#a00000"/>
<rect x="941" y="402" width="3" height="61" fill="#a00000"/>
<rect x="947" y="424" width="1" height="34" fill="#76991f"/>
<rect x="946" y="431" width="3" height="21" fill="#76991f"/>
<rect x="952" y="427" width="1" height="57" fill="#a00000"/>
<rect x="951" y="431" width="3" height="39" fill="#a00000"/>
<rect x="957" y="462" width="1" height="35" fill="#a00000"/>
<rect x="956" y="469" width="3" height="6" fill="#a00000"/>
<rect x="962" y="441" width="1" height="57" fill="#76991f"/>
<rect x="961" y="466" width="3" height="9" fill="#76991f"/>
<rect x="967" y="454" width="1" height="61" fill="#a00000"/>
<rect x="966" y="466" width="3" height="35" fill="#a00000"/>
<rect x="972" y="484" width="1" height="34" fill="#76991f"/>
<rect x="971" y="486" width="3" height="18" fill="#76991f"/>
<rect x="977" y="462" width="1" height="37" fill="#a00000"/>
<rect x="976" y="487" width="3" height="7" fill="#a00000"/>
<rect x="982" y="438" width="1" height="73" fill="#76991f"/>
<rect x="981" y="442" width="3" height="52" fill="#76991f"/>
<rect x="987" y="399" width="1" height="49" fill="#76991f"/>
<rect x="986" y="431" width="3" height="12" fill="#76991f"/>
<rect x="992" y="345" width="1" height="86" fill="#76991f"/>
<rect x="991" y="362" width="3" height="69" fill="#76991f"/>
<rect x="997" y="355" width="1" height="20" fill="#a00000"/>
<rect x="996" y="362" width="3" height="9" fill="#a00000"/>
<rect x="1002" y="320" width="1" height="54" fill="#76991f"/>
<rect x="1001" y="328" width="3" height="43" fill="#76991f"/>
<rect x="1007" y="324" width="1" height="62" fill="#a00000"/>
<rect x="1006" y="328" width="3" height="52" fill="#a00000"/>
<rect x="1012" y="374" width="1" height="30" fill="#a00000"/>
<rect x="1011" y="379" width="3" height="16" fill="#a00000"/>
<rect x="1017" y="370" width="1" height="82" fill="#a00000"/>
<rect x="1016" y="394" width="3" height="30" fill="#a00000"/>
<rect x="1022" y="410" width="1" height="24" fill="#76991f"/>
<rect x="1021" y="422" width="3" height="6" fill="#76991f"/>
<rect x="1027" y="397" width="1" height="38" fill="#76991f"/>
<rect x="1026" y="402" width="3" height="20" fill="#76991f"/>
<rect x="1032" y="350" width="1" height="56" fill="#76991f"/>
<rect x="1031" y="360" width="3" height="43" fill="#76991f"/>
<rect x="1037" y="349" width="1" height="39" fill="#a00000"/>
<rect x="1036" y="360" width="3" height="28" fill="#a00000"/>
<rect x="1042" y="328" width="1" height="64" fill="#76991f"/>
<rect x="1041" y="370" width="3" height="18" fill="#76991f"/>
<rect x="1047" y="341" width="1" height="35" fill="#76991f"/>
<rect x="1046" y="355" width="3" height="12" fill="#76991f"/>
<rect x="1052" y="258" width="1" height="102" fill="#76991f"/>
<rect x="1051" y="289" width="3" height="67" fill="#76991f"/>
<rect x="1057" y="262" width="1" height="54" fill="#76991f"/>
<rect x="1056" y="281" width="3" height="9" fill="#76991f"/>
<rect x="1062" y="227" width="1" height="57" fill="#76991f"/>
<rect x="1061" y="236" width="3" height="46" fill="#76991f"/>
<rect x="1067" y="232" width="1" height="39" fill="#a00000"/>
<rect x="1066" y="236" width="3" height="23" fill="#a00000"/>
<rect x="1072" y="252" width="1" height="42" fill="#76991f"/>
<rect x="1071" y="259" width="3" height="9" fill="#76991f"/>
<rect x="1077" y="235" width="1" height="36" fill="#a00000"/>
<rect x="1076" y="259" width="3" height="12" fill="#a00000"/>
<rect x="1082" y="265" width="1" height="48" fill="#a00000"/>
<rect x="1081" y="270" width="3" height="30" fill="#a00000"/>
<rect x="1087" y="275" width="1" height="28" fill="#76991f"/>
<rect x="1086" y="284" width="3" height="16" fill="#76991f"/>
<rect x="1092" y="245" width="1" height="113" fill="#a00000"/>
<rect x="1091" y="288" width="3" height="60" fill="#a00000"/>
<rect x="1097" y="338" width="1" height="35" fill="#76991f"/>
<rect x="1096" y="351" width="3" height="10" fill="#76991f"/>
<rect x="1102" y="348" width="1" height="44" fill="#a00000"/>
<rect x="1101" y="351" width="3" height="33" fill="#a00000"/>
<rect x="1107" y="367" width="1" height="31" fill="#76991f"/>
<rect x="1106" y="373" width="3" height="11" fill="#76991f"/>
<rect x="1112" y="340" width="1" height="55" fill="#76991f"/>
<rect x="1111" y="346" width="3" height="28" fill="#76991f"/>
<rect x="1117" y="307" width="1" height="73" fill="#a00000"/>
<rect x="1116" y="346" width="3" height="30" fill="#a00000"/>
<rect x="1122" y="355" width="1" height="31" fill="#a00000"/>
<rect x="1121" y="374" width="3" height="7" fill="#a00000"/>
<rect x="1127" y="299" width="1" height="86" fill="#76991f"/>
<rect x="1126" y="305" width="3" height="76" fill="#76991f"/>
<rect x="1132" y="293" width="1" height="31" fill="#a00000"/>
<rect x="1131" y="305" width="3" height="12" fill="#a00000"/>
<rect x="1137" y="254" width="1" height="66" fill="#76991f"/>
<rect x="1136" y="301" width="3" height="16" fill="#76991f"/>
<rect x="1142" y="284" width="1" height="61" fill="#a00000"/>
<rect x="1141" y="301" width="3" height="21" fill="#a00000"/>
<rect x="1147" y="295" width="1" height="42" fill="#76991f"/>
<rect x="1146" y="319" width="3" height="1" fill="#76991f"/>
<rect x="1152" y="301" width="1" height="40" fill="#a00000"/>
<rect x="1151" y="319" width="3" height="12" fill="#a00000"/>
<rect x="1157" y="291" width="1" height="46" fill="#76991f"/>
<rect x="1156" y="309" width="3" height="22" fill="#76991f"/>
<rect x="1162" y="284" width="1" height="47" fill="#a00000"/>
<rect x="1161" y="309" width="3" height="5" fill="#a00000"/>
<rect x="1167" y="308" width="1" height="70" fill="#a00000"/>
<rect x="1166" y="313" width="3" height="65" fill="#a00000"/>
<rect x="1172" y="345" width="1" height="34" fill="#76991f"/>
<rect x="1171" y="362" width="3" height="17" fill="#76991f"/>
<rect x="1177" y="334" width="1" height="46" fill="#a00000"/>
<rect x="1176" y="362" width="3" height="18" fill="#a00000"/>
<rect x="1182" y="345" width="1" height="53" fill="#76991f"/>
<rect x="1181" y="352" width="3" height="28" fill="#76991f"/>
<rect x="1187" y="303" width="1" height="52" fill="#76991f"/>
<rect x="1186" y="338" width="3" height="15" fill="#76991f"/>
<rect x="1192" y="315" width="1" height="33" fill="#76991f"/>
<rect x="1191" y="327" width="3" height="12" fill="#76991f"/>
<rect x="1197" y="288" width="1" height="41" fill="#76991f"/>
<rect x="1196" y="306" width="3" height="18" fill="#76991f"/>
<rect x="1202" y="302" width="1" height="48" fill="#a00000"/>
<rect x="1201" y="306" width="3" height="28" fill="#a00000"/>
<rect x="1207" y="317" width="1" height="40" fill="#76991f"/>
<rect x="1206" y="331" width="3" height="3" fill="#76991f"/>
<rect x="1212" y="308" width="1" height="38" fill="#76991f"/>
<rect x="1211" y="328" width="3" height="5" fill="#76991f"/>
<rect x="1217" y="308" width="1" height="69" fill="#76991f"/>
<rect x="1216" y="316" width="3" height="13" fill="#76991f"/>
<rect x="1222" y="312" width="1" height="27" fill="#a00000"/>
<rect x="1221" y="323" width="3" height="14" fill="#a00000"/>
<rect x="1227" y="316" width="1" height="72" fill="#a00000"/>
<rect x="1226" y="336" width="3" height="6" fill="#a00000"/>
<rect x="1232" y="320" width="1" height="31" fill="#76991f"/>
<rect x="1231" y="340" width="3" height="3" fill="#76991f"/>
<rect x="1237" y="334" width="1" height="52" fill="#a00000"/>
<rect x="1236" y="340" width="3" height="39" fill="#a00000"/>
<rect x="1242" y="340" width="1" height="71" fill="#76991f"/>
<rect x="1241" y="344" width="3" height="35" fill="#76991f"/>
<rect x="1247" y="341" width="1" height="51" fill="#a00000"/>
<rect x="1246" y="356" width="3" height="32" fill="#a00000"/>
<rect x="1252" y="383" width="1" height="67" fill="#a00000"/>
<rect x="1251" y="387" width="3" height="60" fill="#a00000"/>
<rect x="1257" y="436" width="1" height="44" fill="#a00000"/>
<rect x="1256" y="446" width="3" height="34" fill="#a00000"/>
<rect x="1262" y="443" width="1" height="51" fill="#76991f"/>
<rect x="1261" y="444" width="3" height="36" fill="#76991f"/>
<rect x="1267" y="442" width="1" height="62" fill="#a00000"/>
<rect x="1266" y="444" width="3" height="60" fill="#a00000"/>
<rect x="1272" y="477" width="1" height="32" fill="#76991f"/>
<rect x="1271" y="483" width="3" height="23" fill="#76991f"/>
<rect x="1277" y="465" width="1" height="40" fill="#a00000"/>
<rect x="1276" y="484" width="3" height="13" fill="#a00000"/>
<rect x="1282" y="480" width="1" height="35" fill="#a00000"/>
<rect x="1281" y="497" width="3" height="5" fill="#a00000"/>
<rect x="1287" y="456" width="1" height="87" fill="#a00000"/>
<rect x="1286" y="501" width="3" height="32" fill="#a00000"/>
<rect x="1292" y="532" width="1" height="50" fill="#a00000"/>
<rect x="1291" y="533" width="3" height="34" fill="#a00000"/>
<rect x="1297" y="553" width="1" height="29" fill="#666"/>
<rect x="1296" y="566" width="3" height="1" fill="#666"/>
<rect x="1302" y="549" width="1" height="39" fill="#76991f"/>
<rect x="1301" y="561" width="3" height="6" fill="#76991f"/>
<rect x="1307" y="520" width="1" height="52" fill="#76991f"/>
<rect x="1306" y="547" width="3" height="15" fill="#76991f"/>
<rect x="1312" y="523" width="1" height="43" fill="#a00000"/>
<rect x="1311" y="547" width="3" height="10" fill="#a00000"/>
<rect x="1317" y="489" width="1" height="70" fill="#76991f"/>
<rect x="1316" y="495" width="3" height="62" fill="#76991f"/>
<rect x="1322" y="489" width="1" height="40" fill="#a00000"/>
<rect x="1321" y="490" width="3" height="8" fill="#a00000"/>
<rect x="1327" y="435" width="1" height="77" fill="#76991f"/>
<rect x="1326" y="444" width="3" height="54" fill="#76991f"/>
<rect x="1332" y="397" width="1" height="52" fill="#76991f"/>
<rect x="1331" y="415" width="3" height="30" fill="#76991f"/>
<rect x="1337" y="395" width="1" height="47" fill="#76991f"/>
<rect x="1336" y="410" width="3" height="6" fill="#76991f"/>
<rect x="1342" y="384" width="1" height="44" fill="#76991f"/>
<rect x="1341" y="387" width="3" height="24" fill="#76991f"/>
<rect x="1347" y="406" width="1" height="59" fill="#a00000"/>
<rect x="1346" y="438" width="3" height="18" fill="#a00000"/>
<rect x="1352" y="436" width="1" height="42" fill="#a00000"/>
<rect x="1351" y="455" width="3" height="11" fill="#a00000"/>
<rect x="1357" y="274" width="1" height="275" fill="#a00000"/>
<rect x="1356" y="465" width="3" height="82" fill="#a00000"/>
<rect x="1362" y="515" width="1" height="63" fill="#a00000"/>
<rect x="1361" y="546" width="3" height="14" fill="#a00000"/>
<rect x="1367" y="536" width="1" height="67" fill="#a00000"/>
<rect x="1366" y="559" width="3" height="29" fill="#a00000"/>
<rect x="1372" y="595" width="1" height="92" fill="#a00000"/>
<rect x="1371" y="600" width="3" height="67" fill="#a00000"/>
<rect x="1377" y="611" width="1" height="73" fill="#a00000"/>
<rect x="1376" y="667" width="3" height="12" fill="#a00000"/>
<rect x="1382" y="651" width="1" height="66" fill="#a00000"/>
<rect x="1381" y="678" width="3" height="22" fill="#a00000"/>
<rect x="1387" y="661" width="1" height="89" fill="#a00000"/>
<rect x="1386" y="699" width="3" height="46" fill="#a00000"/>
<rect x="1392" y="733" width="1" height="52" fill="#a00000"/>
<rect x="1391" y="744" width="3" height="29" fill="#a00000"/>
<rect x="1397" y="728" width="1" height="50" fill="#76991f"/>
<rect x="1396" y="743" width="3" height="26" fill="#76991f"/>
<rect x="1402" y="722" width="1" height="53" fill="#a00000"/>
<rect x="1401" y="743" width="3" height="2" fill="#a00000"/>
<rect x="1407" y="732" width="1" height="83" fill="#a00000"/>
<rect x="1406" y="744" width="3" height="52" fill="#a00000"/>
<rect x="1412" y="773" width="1" height="48" fill="#a00000"/>
<rect x="1411" y="796" width="3" height="1" fill="#a00000"/>
<rect x="1417" y="743" width="1" height="64" fill="#76991f"/>
<rect x="1416" y="769" width="3" height="29" fill="#76991f"/>
<rect x="1422" y="703" width="1" height="64" fill="#76991f"/>
<rect x="1421" y="725" width="3" height="31" fill="#76991f"/>
</g>
<polyline points="0,401.25 10,405.5 20,406.25 30,408.75 50,416.25 75,427.5 100,440 125,453.75 135,458 150,460.5 165,460.75 180,458.75 200,453.75 217.5,451.75 250,451.75 270,453 285,451.25 305,446.75 325,446.25 337.5,445 360,445.75 375,445.75 390,445 402,445 415,448 425,450 450,451 475,451 485,453 500,453.75 525,454.5 540,455.75 555,455.75 575,453.75 590,449.5 615,445 630,442 650,436.5 675,428.75 700,420.5 715,416.25 730,413.75 750,412 762.5,412.6 767.5,413.2 773.4,415.3 784,416.8 791,416.5 800,415.8 806,415.6 812,414.2 820,414 824,413.2 838,413.1 842,414 862.5,414.2 867.5,415 878,415.2 890,416.5 910,417.5 935,420.5 950,423.75 970,428.75 980,431.5 995,431 1015,429.5 1035,427.5 1050,422.5 1070,413 1090,404 1110,396 1130,389.25 1145,385.5 1160,383 1175,380.75 1190,377.5 1205,373.75 1220,371.5 1235,369 1245,366 1255,363.75 1275,362.5 1295,362 1315,361.5 1330,359 1340,357.5 1350,356.75 1360,357 1370,359.5 1380,364 1390,369 1400,372.5 1410,376.5 1422,380.75" fill="none" stroke="#000" stroke-width="2" stroke-linejoin="round" shape-rendering="crispEdges"/>
<rect x="4" y="544" width="1490" height="1" fill="#000" shape-rendering="crispEdges"/>
<path d="M0.5 544.2 L8 540.3 L8 548.1 Z" fill="#000"/>
<rect x="1540" y="544" width="8" height="1" fill="#000" shape-rendering="crispEdges"/>
<path d="M1553.2 544.2 L1545 540 L1545 548 Z" fill="#000"/>
<text class="lv" transform="translate(1503.7 547) rotate(0.03) scale(0.9 1.0)">1.09119</text>
<rect x="4" y="818" width="1490" height="1" fill="#000" shape-rendering="crispEdges"/>
<path d="M0.5 818.2 L8 814.3 L8 822.1 Z" fill="#000"/>
<rect x="1540" y="818" width="8" height="1" fill="#000" shape-rendering="crispEdges"/>
<path d="M1553.2 818.2 L1545 814 L1545 822 Z" fill="#000"/>
<text class="lv" transform="translate(1503.7 821) rotate(0.03) scale(0.9 1.0)">1.05205</text>
<rect x="4" y="859" width="1490" height="1" fill="#000" shape-rendering="crispEdges"/>
<path d="M0.5 859.2 L8 855.3 L8 863.1 Z" fill="#000"/>
<rect x="1540" y="859" width="8" height="1" fill="#000" shape-rendering="crispEdges"/>
<path d="M1553.2 859.2 L1545 855 L1545 863 Z" fill="#000"/>
<text class="lv" transform="translate(1503.7 862) rotate(0.03) scale(0.9 1.0)">1.04616</text>
<g shape-rendering="crispEdges">
<rect x="1553" y="373" width="64" height="17" fill="#fff"/>
<rect x="1554" y="374" width="62" height="15" fill="#000"/>
<rect x="1553" y="378" width="1" height="1" fill="#000"/>
<rect x="1554" y="718" width="62" height="15" fill="#e9eef0"/>
<rect x="1555" y="719" width="60" height="13" fill="#a00000"/>
<rect x="1553" y="728" width="1" height="1" fill="#000"/>
</g>
<text x="1565.5" y="386" font-size="11" fill="#fff" letter-spacing="-0.12">1.11463</text>
<text x="1565.5" y="730" font-size="11" fill="#fff" letter-spacing="-0.12">1.06543</text>
</svg></body></html>
